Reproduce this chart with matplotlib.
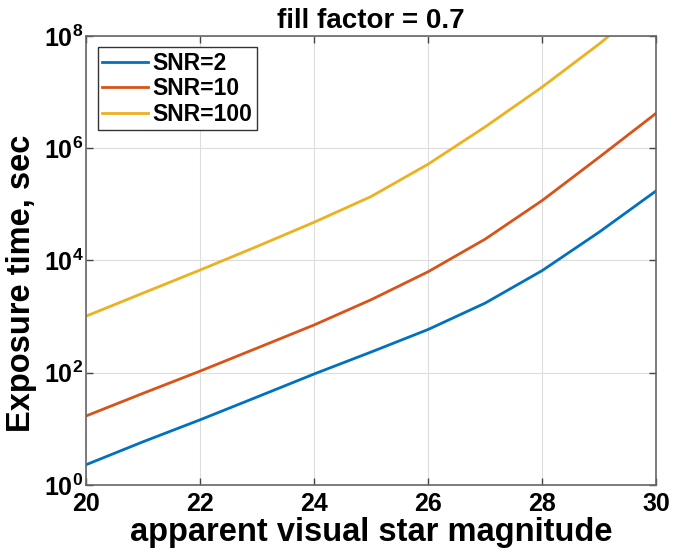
import numpy as np
import matplotlib.pyplot as plt
from matplotlib.ticker import LogFormatterMathtext, FixedLocator, NullLocator

plt.rcParams['font.family'] = ['Liberation Sans', 'DejaVu Sans']
plt.rcParams['font.weight'] = 'bold'
plt.rcParams['mathtext.default'] = 'regular'

# apparent visual magnitude vs required exposure time (s)
magnitude = [20, 21, 22, 23, 24, 25, 26, 27, 28, 29, 30]
t_snr2 = [2.3, 5.9, 14.5, 37, 95, 234, 590, 1740, 6600, 3.2e4, 1.74e5]
t_snr10 = [17, 43, 107, 275, 710, 2000, 6300, 2.4e4, 1.17e5, 6.9e5, 4.2e6]
t_snr100 = [1020, 2630, 6760, 1.78e4, 4.8e4, 1.38e5, 5.2e5, 2.4e6, 1.23e7, 7.2e7, 5e8]
labels = ['SNR=2', 'SNR=10', 'SNR=100']
colors = ['#0072BD', '#D95319', '#EDB120']

fig = plt.figure(figsize=(6.73, 5.52), dpi=100)
ax = fig.add_axes([0.128, 0.1214, 0.847, 0.8135])

for t, lab, c in zip([t_snr2, t_snr10, t_snr100], labels, colors):
    ax.plot(magnitude, t, color=c, lw=2, label=lab)

ax.set_yscale('log')
ax.set_xlim(20, 30)
ax.set_ylim(1, 1e8)
ax.xaxis.set_major_locator(FixedLocator([20, 22, 24, 26, 28, 30]))
ax.yaxis.set_major_locator(FixedLocator([1, 1e2, 1e4, 1e6, 1e8]))
ax.yaxis.set_major_formatter(LogFormatterMathtext())
ax.yaxis.set_minor_locator(NullLocator())

ax.grid(True, color='#dddddd', lw=0.8)
ax.tick_params(direction='in', length=5, width=1, color='#444444',
               top=True, right=True, labelsize=18)
ax.tick_params(axis='x', pad=5)
ax.tick_params(axis='y', pad=2)
for s in ax.spines.values():
    s.set_color('#666666')
    s.set_linewidth(1.2)

ax.set_xlabel('apparent visual star magnitude', fontsize=23.5, fontweight='bold', labelpad=1)
ax.set_ylabel('Exposure time, sec', fontsize=23.5, fontweight='bold')
ax.yaxis.set_label_coords(-0.087, 0.45)
ax.set_title('fill factor = 0.7', fontsize=20, fontweight='bold', pad=6)

leg = ax.legend(loc='upper left', fontsize=16.5, fancybox=False, framealpha=1,
                edgecolor='#333333', handlelength=2.0, handletextpad=0.2,
                borderpad=0.2, labelspacing=0.1, borderaxespad=0.5)
leg.get_frame().set_linewidth(1.0)

fig.savefig('out.png', dpi=100)
